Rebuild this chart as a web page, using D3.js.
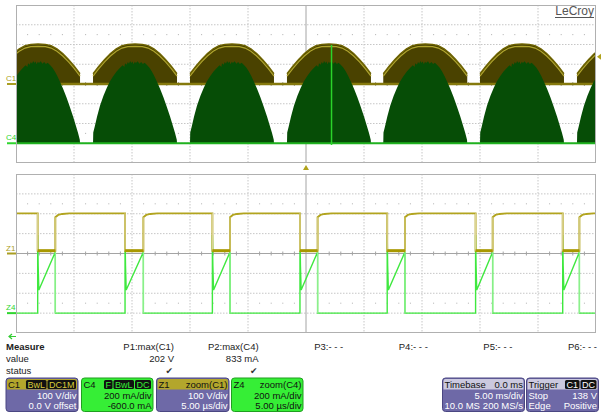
<!DOCTYPE html>
<html>
<head>
<meta charset="utf-8">
<script src="https://cdn.jsdelivr.net/npm/d3@7"></script>
<style>
  body { margin: 0; background: #fff; }
  svg { display: block; font-family: "Liberation Sans", Arial, sans-serif; }
</style>
</head>
<body>
<div class="chart"></div>
<script>
// ---- data ----
// top panel: 5 ms/div, C1 100 V/div (0 V offset), C4 200 mA/div (-600 mA offset)
const humpStarts = [-1.72, 6.64, 15.0, 23.36, 31.66, 40.0, 48.36]; // ms
const c1Hump = [ // [ms from hump start, V]
  [0, 0], [0, 52], [0.5, 90], [1.0, 124], [1.5, 154], [2.0, 178], [2.5, 194], [3.0, 201],
  [3.62, 203], [4.25, 201], [4.75, 194], [5.25, 178], [5.75, 154], [6.25, 124], [6.75, 90],
  [7.24, 52], [7.24, 0]
];
const c4Hump = [ // [ms from hump start, mA]
  [0, 0], [0.02, 110], [0.15, 170], [0.35, 270], [0.6, 380], [0.9, 480], [1.18, 560], [1.45, 625],
  [1.75, 680], [2.05, 728], [2.33, 765], [2.55, 790], [2.7, 772], [2.76, 810], [2.9, 795],
  [3.0, 824], [3.1, 804], [3.2, 833], [3.3, 812], [3.4, 828], [3.5, 800], [3.6, 826], [3.7, 812],
  [3.85, 831], [4.0, 806], [4.15, 822], [4.3, 802], [4.45, 814], [4.63, 796], [4.85, 768],
  [5.06, 728], [5.28, 682], [5.49, 628], [5.78, 552], [6.06, 468], [6.35, 372], [6.64, 270],
  [6.85, 190], [7.07, 105], [7.22, 35], [7.24, 0]
];
const c4SpikeTime = 27.2;          // ms
const c4SpikeRange = [-18, 995];   // mA

// bottom panel: zoom 5 us/div
const zFall = [1.87, 9.40, 16.93, 24.48, 32.00, 39.62, 47.13]; // us
const zRise = [3.39, 10.98, 18.45, 26.00, 33.53, 41.09, 48.57]; // us
const z1High = 202, z1Low = 14;                                  // V
const z1Recover = [[0, 183], [0.25, 194], [0.6, 199], [1.2, 202]]; // [us after rise, V]
const z4Burst = [[0, 786], [0.04, 480], [0.1, 232]];              // [us after fall, mA]
const z4AtRise = 615;                                            // mA

// measurement table
const measNames = ["P1:max(C1)", "P2:max(C4)", "P3:- - -", "P4:- - -", "P5:- - -", "P6:- - -"];
const measValues = ["202 V", "833 mA", "", "", "", ""];
const measStatus = [true, true, false, false, false, false];

// descriptor boxes
const boxes = [
  { x0: 6, x1: 78, kind: "volt", left: "C1", right: "", badges: ["BwL", "DC1M"], rows: [["", "100 V/div"], ["", "0.0 V offset"]] },
  { x0: 81.5, x1: 153, kind: "amp", left: "C4", right: "", badges: ["F", "BwL", "DC"], rows: [["", "200 mA/div"], ["", "-600.0 mA"]] },
  { x0: 156.5, x1: 229, kind: "volt", left: "Z1", right: "zoom(C1)", badges: [], rows: [["", "100 V/div"], ["", "5.00 µs/div"]] },
  { x0: 231.5, x1: 303, kind: "amp", left: "Z4", right: "zoom(C4)", badges: [], rows: [["", "200 mA/div"], ["", "5.00 µs/div"]] },
  { x0: 442.5, x1: 524.5, kind: "sys", left: "Timebase", right: "0.0 ms", badges: [], rows: [["", "5.00 ms/div"], ["10.0 MS", "200 MS/s"]] },
  { x0: 526.5, x1: 598.5, kind: "sys", left: "Trigger", right: "", badges: ["C1", "DC"], rows: [["Stop", "138 V"], ["Edge", "Positive"]] }
];

// ---- layout ----
const W = 601, H = 413;
const left = 16, right = 596;
const top1 = 5, bot1 = 163, top2 = 174, bot2 = 333;

const svg = d3.select(".chart").append("svg").attr("width", W).attr("height", H);

const xTop = d3.scaleLinear().domain([0, 50]).range([left, right]);
const xBot = d3.scaleLinear().domain([0, 50]).range([left, right]);
const yC1 = d3.scaleLinear().domain([-400, 400]).range([bot1, top1]);
const yC4 = d3.scaleLinear().domain([-200, 1400]).range([bot1, top1]);
const yZ1 = d3.scaleLinear().domain([-400, 400]).range([bot2, top2]);
const yZ4 = d3.scaleLinear().domain([-200, 1400]).range([bot2, top2]);

function grid(y0, y1) {
  const g = svg.append("g");
  const xs = d3.range(5, 50, 5).map(xTop);
  const dy = (y1 - y0) / 8;
  const cx = xTop(25), cy = y0 + 4 * dy;
  xs.filter(x => Math.abs(x - cx) > 1).forEach(x => {
    g.append("line").attr("x1", x).attr("x2", x).attr("y1", y0).attr("y2", y1)
      .attr("stroke", "#c6c6c6").attr("stroke-dasharray", "1.5,1.5");
  });
  d3.range(1, 8).filter(i => i !== 4).forEach(i => {
    g.append("line").attr("x1", left).attr("x2", right).attr("y1", y0 + i * dy).attr("y2", y0 + i * dy)
      .attr("stroke", "#c6c6c6").attr("stroke-dasharray", "1.5,1.5");
  });
  // dot rows and center ticks
  const minor = d3.range(0, 50.01, 1).map(xTop).filter((x, i) => i % 5 !== 0);
  [1.5, 6.5].forEach(k => {
    minor.forEach(x => g.append("rect").attr("x", x - 0.5).attr("y", y0 + k * dy - 0.5)
      .attr("width", 1).attr("height", 1).attr("fill", "#b0b0b0"));
  });
  g.append("line").attr("x1", left).attr("x2", right).attr("y1", cy).attr("y2", cy).attr("stroke", "#a4a4a4");
  g.append("line").attr("x1", cx).attr("x2", cx).attr("y1", y0).attr("y2", y1).attr("stroke", "#a4a4a4");
  minor.forEach(x => g.append("line").attr("x1", x).attr("x2", x).attr("y1", cy - 2).attr("y2", cy + 2).attr("stroke", "#a4a4a4"));
  g.append("rect").attr("x", left + 0.5).attr("y", y0 + 0.5).attr("width", right - left - 1).attr("height", y1 - y0 - 1)
    .attr("fill", "none").attr("stroke", "#b0b0b0");
}
grid(top1, bot1);
grid(top2, bot2);

const defs = svg.append("defs");
defs.append("clipPath").attr("id", "clipTop").append("rect")
  .attr("x", left + 1).attr("y", top1 + 1).attr("width", right - left - 2).attr("height", bot1 - top1 - 2);
defs.append("clipPath").attr("id", "clipBot").append("rect")
  .attr("x", left + 1).attr("y", top2 + 1).attr("width", right - left - 2).attr("height", bot2 - top2 - 2);

// ---- top panel traces ----
const gt = svg.append("g").attr("clip-path", "url(#clipTop)");

const c1Area = d3.area().x(d => xTop(d[0])).y0(yC1(0)).y1(d => yC1(d[1]));
const c1Line = d3.line().x(d => xTop(d[0])).y(d => yC1(d[1]));
const c4Area = d3.area().x(d => xTop(d[0])).y0(yC4(0)).y1(d => yC4(d[1]));

humpStarts.forEach(s => {
  const pts = c1Hump.map(([t, v]) => [s + t, v]);
  gt.append("path").attr("d", c1Area(pts)).attr("fill", "#4a4200");
  gt.append("path").attr("d", c1Line(pts.slice(1, -1))).attr("fill", "none").attr("stroke", "#6f6400").attr("stroke-width", 1.3);
  gt.append("path").attr("d", c1Line(pts.slice(1, -1))).attr("transform", "translate(0,2.4)")
    .attr("fill", "none").attr("stroke", "#b0a52e").attr("stroke-width", 1.2);
});
gt.append("line").attr("x1", left).attr("x2", right).attr("y1", yC1(0)).attr("y2", yC1(0))
  .attr("stroke", "#85790c").attr("stroke-width", 2.6);

humpStarts.forEach(s => {
  const pts = c4Hump.map(([t, v]) => [s + t, v]);
  gt.append("path").attr("d", c4Area(pts)).attr("fill", "#064d06");
});
gt.append("line").attr("x1", left).attr("x2", right).attr("y1", yC4(0)).attr("y2", yC4(0))
  .attr("stroke", "#1fb21f").attr("stroke-width", 2);
gt.append("line").attr("x1", xTop(c4SpikeTime)).attr("x2", xTop(c4SpikeTime))
  .attr("y1", yC4(c4SpikeRange[0])).attr("y2", yC4(c4SpikeRange[1]))
  .attr("stroke", "#2ad42a").attr("stroke-width", 1.5);

// ---- bottom panel traces ----
const gb = svg.append("g").attr("clip-path", "url(#clipBot)");

const z4Pts = [[0, 0]];
zFall.forEach((f, i) => {
  z4Pts.push([f, 0]);
  z4Burst.forEach(([dt, v]) => z4Pts.push([f + dt, v]));
  z4Pts.push([zRise[i], z4AtRise], [zRise[i], 0]);
});
z4Pts.push([50, 0]);
gb.append("path").attr("d", d3.line().x(d => xBot(d[0])).y(d => yZ4(d[1]))(z4Pts))
  .attr("fill", "none").attr("stroke", "#3fe83f").attr("stroke-width", 1.4);
zRise.forEach(r => gb.append("line").attr("x1", xBot(r)).attr("x2", xBot(r))
  .attr("y1", yZ4(z4AtRise)).attr("y2", yZ4(0)).attr("stroke", "#8cf08c").attr("stroke-width", 1.2));

const z1Pts = [[0, z1High]];
zFall.forEach((f, i) => {
  z1Pts.push([f, z1High], [f, z1Low], [zRise[i], z1Low]);
  z1Recover.forEach(([dt, v]) => z1Pts.push([zRise[i] + dt, v]));
});
z1Pts.push([50, z1High]);
gb.append("path").attr("d", d3.line().x(d => xBot(d[0])).y(d => yZ1(d[1]))(z1Pts))
  .attr("fill", "none").attr("stroke", "#b2a41e").attr("stroke-width", 1.9);
zFall.forEach((f, i) => {
  gb.append("line").attr("x1", xBot(f)).attr("x2", xBot(f)).attr("y1", yZ1(z1High)).attr("y2", yZ1(z1Low))
    .attr("stroke", "#dcd494").attr("stroke-width", 1.2);
  gb.append("line").attr("x1", xBot(zRise[i])).attr("x2", xBot(zRise[i])).attr("y1", yZ1(z1Low)).attr("y2", yZ1(z1Recover[0][1]))
    .attr("stroke", "#d2c878").attr("stroke-width", 1.2);
  gb.append("line").attr("x1", xBot(f)).attr("x2", xBot(zRise[i])).attr("y1", yZ1(z1Low)).attr("y2", yZ1(z1Low))
    .attr("stroke", "#a89800").attr("stroke-width", 3);
});

// ---- channel markers ----
function marker(label, y, color) {
  svg.append("line").attr("x1", 7).attr("x2", left).attr("y1", y).attr("y2", y).attr("stroke", color).attr("stroke-width", 2);
  svg.append("text").attr("x", 6).attr("y", y - 3).attr("font-size", 8).attr("fill", color).text(label);
}
marker("C1", yC1(0), "#aa9e22");
marker("C4", yC4(0), "#2fd62f");
marker("Z1", yZ1(0), "#aa9e22");
marker("Z4", yZ4(0), "#2fd62f");

// trigger position / level marks
const tx = xTop(25);
svg.append("path").attr("d", `M${tx - 3},170 L${tx + 3},170 L${tx},165 Z`).attr("fill", "#b0a21c");
const ty = yC1(138);
svg.append("path").attr("d", `M${right + 1},${ty} L${W},${ty - 3} L${W},${ty + 3} Z`).attr("fill", "#b0a21c");
svg.append("path").attr("d", "M9,336.5 L16,336.5 M12,334 L9,336.5 L12,339").attr("fill", "none")
  .attr("stroke", "#33cc33").attr("stroke-width", 1.2);

// brand
svg.append("rect").attr("x", 552).attr("y", 6).attr("width", 43).attr("height", 13).attr("fill", "#fff");
svg.append("text").attr("x", 594).attr("y", 15).attr("text-anchor", "end").attr("font-size", 12)
  .attr("fill", "#555").text("LeCroy");
svg.append("line").attr("x1", 555).attr("x2", 594).attr("y1", 17.5).attr("y2", 17.5).attr("stroke", "#555");

// ---- measurement table ----
const mt = svg.append("g").attr("font-size", 9.5).attr("fill", "#222");
mt.append("text").attr("x", 6).attr("y", 349.5).attr("font-weight", "bold").text("Measure");
mt.append("text").attr("x", 6).attr("y", 361.5).text("value");
mt.append("text").attr("x", 6).attr("y", 373.5).text("status");
measNames.forEach((n, i) => {
  const xr = 174 + i * 84.6;
  mt.append("text").attr("x", xr).attr("y", 349.5).attr("text-anchor", "end").text(n);
  if (measValues[i]) mt.append("text").attr("x", xr).attr("y", 361.5).attr("text-anchor", "end").text(measValues[i]);
  if (measStatus[i]) mt.append("text").attr("x", xr - 1).attr("y", 374).attr("text-anchor", "end")
    .attr("font-family", "DejaVu Sans").attr("font-size", 9).attr("fill", "#333").text("✔");
});

// ---- descriptor boxes ----
const palette = {
  volt: { head: "#b3a62c", body: "#6e69a7", edge: "#4a4682", ink: "#fff", headInk: "#111", badgeInk: "#d8cb3a" },
  amp:  { head: "#36ee36", body: "#36ee36", edge: "#1f9f1f", ink: "#111", headInk: "#111", badgeInk: "#36ee36" },
  sys:  { head: "#cbc9df", body: "#6e69a7", edge: "#4a4682", ink: "#fff", headInk: "#111", badgeInk: "#fff" }
};
const by0 = 378, by1 = 411.5, bh = 389.5;
boxes.forEach(b => {
  const p = palette[b.kind];
  const g = svg.append("g").attr("font-size", 9.5);
  g.append("rect").attr("x", b.x0).attr("y", by0).attr("width", b.x1 - b.x0).attr("height", by1 - by0)
    .attr("rx", 3).attr("fill", p.body).attr("stroke", p.edge);
  g.append("path").attr("d", `M${b.x0 + 1},${bh} V${by0 + 3} Q${b.x0 + 1},${by0 + 1} ${b.x0 + 3},${by0 + 1} H${b.x1 - 3} Q${b.x1 - 1},${by0 + 1} ${b.x1 - 1},${by0 + 3} V${bh} Z`)
    .attr("fill", p.head);
  g.append("text").attr("x", b.x0 + 2).attr("y", 387.5).attr("fill", p.headInk).text(b.left);
  if (b.right) g.append("text").attr("x", b.x1 - 1.5).attr("y", 387.5).attr("text-anchor", "end").attr("fill", p.headInk).text(b.right);
  let xr = b.x1 - 2;
  b.badges.slice().reverse().forEach(t => {
    const tt = g.append("text").attr("y", 387.5).attr("font-size", 9).attr("fill", p.badgeInk).text(t);
    const w = tt.node().getComputedTextLength() + 3;
    g.insert("rect", "text").attr("x", xr - w).attr("y", 380).attr("width", w).attr("height", 9)
      .attr("rx", 1.5).attr("fill", "#111");
    tt.attr("x", xr - w + 1.5);
    xr -= w + 1;
  });
  b.rows.forEach(([l, r], i) => {
    const y = 399 + i * 10;
    if (l) g.append("text").attr("x", b.x0 + 2).attr("y", y).attr("fill", p.ink).text(l);
    if (r) g.append("text").attr("x", b.x1 - 1.5).attr("y", y).attr("text-anchor", "end").attr("fill", p.ink).text(r);
  });
});
</script>
</body>
</html>
